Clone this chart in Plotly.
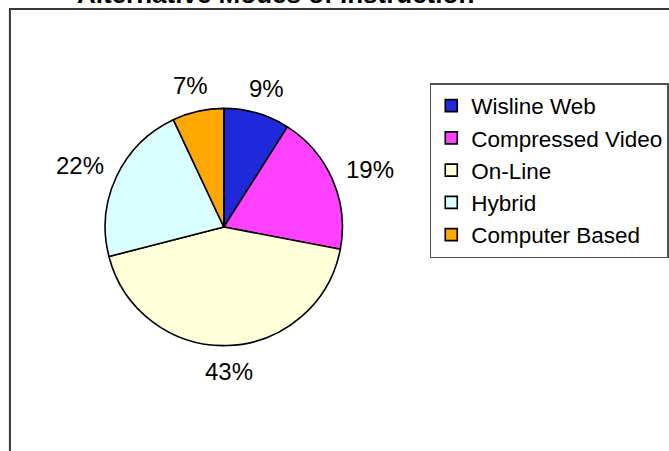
import math
import plotly.graph_objects as go

categories = ["Wisline Web", "Compressed Video", "On-Line", "Hybrid", "Computer Based"]
values = [9, 19, 43, 22, 7]
colors = ["#2028DC", "#FF40FF", "#FFFFDA", "#DAFFFF", "#FFA800"]
title_text = "Alternative Modes of Instruction"

W, H = 669, 451
FONT = "Liberation Sans, Arial, sans-serif"
LABEL_SIZE = 24

def px_x(p):
    return p / W

def px_y(p):
    return 1 - p / H

# pie geometry (pixels)
pie_x0, pie_x1 = 106, 345
pie_y0, pie_y1 = 107.5, 346.5
cx, cy = (pie_x0 + pie_x1) / 2, (pie_y0 + pie_y1) / 2
R = (pie_x1 - pie_x0) / 2
label_gap = 16.5

fig = go.Figure()
fig.add_trace(go.Pie(
    labels=categories,
    values=values,
    sort=False,
    direction="clockwise",
    rotation=0,
    marker=dict(colors=colors, line=dict(color="#000000", width=1.6)),
    textinfo="none",
    domain=dict(x=[px_x(pie_x0), px_x(pie_x1)], y=[px_y(pie_y1), px_y(pie_y0)]),
    hoverinfo="label+percent",
))

# percentage labels placed outside each slice, derived from the values
total = sum(values)
cum = 0
for v in values:
    mid = 2 * math.pi * (cum + v / 2) / total
    cum += v
    pct = round(100 * v / total)
    txt = f"{pct}%"
    w = (0.556 * (len(txt) - 1) + 0.889) * LABEL_SIZE
    h = 0.716 * LABEL_SIZE
    ux, uy = math.sin(mid), -math.cos(mid)
    lx = cx + ux * (R + label_gap + w / 2)
    ly = cy + uy * (R + label_gap + h / 2)
    fig.add_annotation(text=txt, xref="paper", yref="paper",
                       x=px_x(lx), y=px_y(ly), xanchor="center", yanchor="middle",
                       showarrow=False,
                       font=dict(family=FONT, size=LABEL_SIZE, color="#000000"))

fig.add_shape(type="rect", xref="paper", yref="paper",
              x0=px_x(10), x1=px_x(700), y0=px_y(500), y1=px_y(9),
              line=dict(color="#3a3a3a", width=2), fillcolor="rgba(0,0,0,0)", layer="below")

fig.add_annotation(text="<b>" + title_text + "</b>", xref="paper", yref="paper",
                   x=px_x(278), y=px_y(10.5), xanchor="center", yanchor="bottom",
                   showarrow=False,
                   font=dict(family=FONT, size=26, color="#000000"))

fig.update_layout(
    width=W, height=H, autosize=False,
    margin=dict(l=0, r=0, t=0, b=0),
    paper_bgcolor="#FFFFFF", plot_bgcolor="#FFFFFF",
    showlegend=True,
    legend=dict(
        x=px_x(433), y=px_y(83), xanchor="left", yanchor="top",
        font=dict(family=FONT, size=22.5, color="#000000"),
        bordercolor="#505050", borderwidth=1.5, bgcolor="#FFFFFF",
        traceorder="normal",
    ),
    font=dict(family=FONT),
)

fig.write_html("out.html", config={"displayModeBar": False},
               post_script="document.body.style.margin='0px';")
